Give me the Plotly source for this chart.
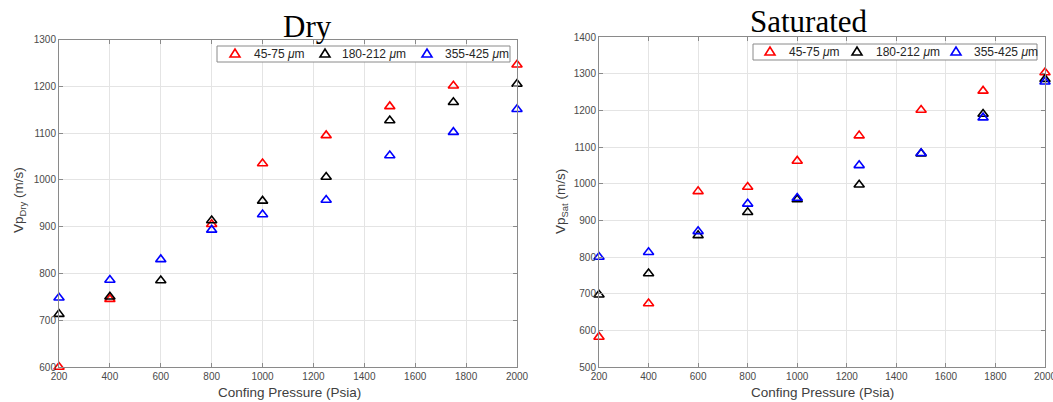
import plotly.graph_objects as go

# Confining pressure steps (psia)
pressure = [200, 400, 600, 800, 1000, 1250, 1500, 1750, 2000]

# P-wave velocity, dry samples (m/s)
dry_45_75 = [600, 745, None, 905, 1035, 1095, 1157, 1201, 1246]
dry_180_212 = [713, 750, 785, 913, 955, 1006, 1127, 1166, 1205]
dry_355_425 = [748, 786, 830, 893, 926, 957, 1052, 1102, 1151]

# P-wave velocity, saturated samples (m/s)
sat_45_75 = [582, 673, 979, 991, 1062, 1131, 1201, 1253, 1303]
sat_180_212 = [697, 755, 859, 922, 957, 997, 1082, 1190, 1285]
sat_355_425 = [800, 813, 870, 945, 961, 1050, 1083, 1180, 1278]

series_names = ["45-75 <i>\u03bc</i>m", "180-212 <i>\u03bc</i>m", "355-425 <i>\u03bc</i>m"]
series_colors = ["#ff0000", "#000000", "#0000ff"]

x_ticks = [200, 400, 600, 800, 1000, 1200, 1400, 1600, 1800, 2000]
dry_y_ticks = [600, 700, 800, 900, 1000, 1100, 1200, 1300]
sat_y_ticks = [500, 600, 700, 800, 900, 1000, 1100, 1200, 1300, 1400]

W, H = 1053, 402
SANS = "Liberation Sans, Arial, sans-serif"
SERIF = "Liberation Serif, Times New Roman, serif"
AXIS_GRAY = "#8a8a8a"


def px_x(p):
    return p / W


def px_y(p):
    return 1 - p / H


fig = go.Figure()

for vals, name, col in zip([dry_45_75, dry_180_212, dry_355_425], series_names, series_colors):
    fig.add_trace(go.Scatter(
        x=pressure, y=vals, mode="markers", name=name,
        marker=dict(symbol="triangle-up-open", size=9, color=col, line=dict(width=1.6, color=col)),
        xaxis="x", yaxis="y", cliponaxis=False, showlegend=False,
    ))

for vals, name, col in zip([sat_45_75, sat_180_212, sat_355_425], series_names, series_colors):
    fig.add_trace(go.Scatter(
        x=pressure, y=vals, mode="markers", name=name,
        marker=dict(symbol="triangle-up-open", size=9, color=col, line=dict(width=1.6, color=col)),
        xaxis="x2", yaxis="y2", cliponaxis=False, showlegend=False,
    ))

axis_common = dict(
    showline=True, linecolor=AXIS_GRAY, linewidth=1, mirror="ticks",
    ticks="inside", ticklen=4, tickcolor=AXIS_GRAY,
    showgrid=True, gridcolor="#e4e4e4", gridwidth=1, automargin=False,
    ticklabeloverflow="allow",
    zeroline=False, tickfont=dict(family=SANS, size=10, color="#4a4a4a"),
)

left_x = (59, 517)
left_y = (39.5, 367)
right_x = (599, 1045)
right_y = (37, 367)

fig.update_layout(
    width=W, height=H,
    margin=dict(l=0, r=0, t=0, b=0, autoexpand=False),
    paper_bgcolor="white", plot_bgcolor="white",
    showlegend=False,
    xaxis=dict(axis_common, domain=[px_x(left_x[0]), px_x(left_x[1])], range=[200, 2000],
               tickvals=x_ticks, anchor="y"),
    yaxis=dict(axis_common, domain=[px_y(left_y[1]), px_y(left_y[0])], range=[600, 1300],
               tickvals=dry_y_ticks, anchor="x"),
    xaxis2=dict(axis_common, domain=[px_x(right_x[0]), px_x(right_x[1])], range=[200, 2000],
                tickvals=x_ticks, anchor="y2"),
    yaxis2=dict(axis_common, domain=[px_y(right_y[1]), px_y(right_y[0])], range=[500, 1400],
                tickvals=sat_y_ticks, anchor="x2"),
)

annotations = [
    dict(text="Dry", x=px_x(307), y=px_y(27), font=dict(family=SERIF, size=31, color="black")),
    dict(text="Saturated", x=px_x(809), y=px_y(22), font=dict(family=SERIF, size=31, color="black")),
    dict(text="Confing Pressure (Psia)", x=px_x(289), y=px_y(392),
         font=dict(family=SANS, size=13.5, color="#404040")),
    dict(text="Confing Pressure (Psia)", x=px_x(822), y=px_y(392),
         font=dict(family=SANS, size=13.5, color="#404040")),
    dict(text="Vp<sub>Dry</sub> (m/s)", x=px_x(20), y=px_y(200), textangle=-90,
         font=dict(family=SANS, size=13.5, color="#404040")),
    dict(text="Vp<sub>Sat</sub> (m/s)", x=px_x(561), y=px_y(202), textangle=-90,
         font=dict(family=SANS, size=13.5, color="#404040")),
]
for a in annotations:
    a.update(xanchor="center", yanchor="middle")

shapes = []

# Boxed legends: outline, open-triangle keys and labels
legend_boxes = [
    dict(box=(217, 46, 510, 62), keys=[235, 325, 427], labels=[252, 340, 443]),
    dict(box=(753, 44, 1037, 60), keys=[770, 857, 956], labels=[787, 874, 972]),
]
for lg in legend_boxes:
    x0, y0, x1, y1 = lg["box"]
    cy = (y0 + y1) / 2
    shapes.append(dict(type="rect", xref="paper", yref="paper",
                       x0=px_x(x0), x1=px_x(x1), y0=px_y(y1), y1=px_y(y0),
                       line=dict(color=AXIS_GRAY, width=1), fillcolor="white", layer="above"))
    for kx, tx, name, col in zip(lg["keys"], lg["labels"], series_names, series_colors):
        pts = [(kx - 5, cy + 3), (kx + 5, cy + 3), (kx, cy - 5)]
        path = "M {} {} L {} {} L {} {} Z".format(
            *[v for p in pts for v in (px_x(p[0]), px_y(p[1]))])
        shapes.append(dict(type="path", xref="paper", yref="paper", path=path,
                           line=dict(color=col, width=1.6), layer="above"))
        annotations.append(dict(text=name, x=px_x(tx), y=px_y(cy + 0.5), xanchor="left",
                                yanchor="middle",
                                font=dict(family=SANS, size=12, color="#262626")))

for a in annotations:
    a.update(xref="paper", yref="paper", showarrow=False)

fig.update_layout(annotations=annotations, shapes=shapes)

fig.write_html("out.html")
